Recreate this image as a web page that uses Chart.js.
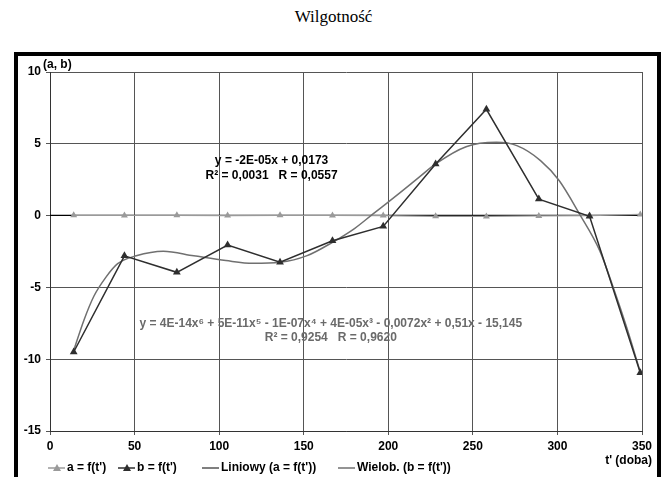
<!DOCTYPE html>
<html><head><meta charset="utf-8">
<script src="https://cdn.jsdelivr.net/npm/chart.js@4/dist/chart.umd.min.js"></script>
<style>
html,body{margin:0;padding:0;background:#fff;}
#wrap{position:relative;width:667px;height:477px;overflow:hidden;}
#title{position:absolute;left:0;top:7px;width:667px;text-align:center;font-family:"Liberation Serif","Times New Roman",serif;font-size:17px;color:#000;line-height:20px;}
#frame{position:absolute;left:14px;top:52px;width:639px;height:500px;border:4px solid #000;box-sizing:content-box;}
#c{position:absolute;left:0;top:0;}
</style></head>
<body>
<div id="wrap">
<div id="title">Wilgotność</div>
<div id="frame"></div>
<canvas id="c" width="667" height="477"></canvas>
</div>
<script>
// ---- data ----
const tDays   = [14, 44, 75, 105, 136, 167, 197, 228, 258, 289, 319, 349];
const aValues = [0.02, 0.01, 0.02, 0.0, 0.02, 0.01, 0.0, -0.05, -0.06, -0.02, 0.0, 0.08];
const bValues = [-9.5, -2.8, -3.95, -2.05, -3.25, -1.75, -0.75, 3.6, 7.4, 1.15, -0.05, -10.95];
const linTrendX = [0, 350];
const linTrendY = [0.017, 0.010];
const polyTrendX = [14, 20, 26, 33, 40, 51, 67, 85, 104, 120, 136, 152, 167, 180, 191, 199, 207, 219, 228, 246, 264, 276, 290, 301, 313, 325, 333, 341, 349];
const polyTrendY = [-9.4, -7.3, -5.6, -4.3, -3.35, -2.8, -2.48, -2.8, -3.13, -3.32, -3.25, -2.79, -1.86, -0.9, 0.12, 0.85, 1.6, 2.75, 3.6, 4.8, 5.1, 4.87, 3.83, 2.44, 0.12, -2.44, -5.0, -7.8, -10.9];
const xTicks = [0, 50, 100, 150, 200, 250, 300, 350];
const yTicks = [-15, -10, -5, 0, 5, 10];
const legendLabels = ["a = f(t')", "b = f(t')", "Liniowy (a = f(t'))", "Wielob. (b = f(t'))"];
const linEqLines = ["y = -2E-05x + 0,0173", "R\u00B2 = 0,0031   R = 0,0557"];
const polyEqLines = ["y = 4E-14x\u2076 + 5E-11x\u2075 - 1E-07x\u2074 + 4E-05x\u00B3 - 0,0072x\u00B2 + 0,51x - 15,145", "R\u00B2 = 0,9254   R = 0,9620"];
const yAxisTitle = "(a, b)";
const xAxisTitle = "t' (doba)";

const pts = (xs, ys) => xs.map((x, i) => ({x: x, y: ys[i]}));

const colA = '#9a9a9a', colB = '#2e2e2e', colLin = '#000000', colPoly = '#707070';
const FONT = 'Arial, "Liberation Sans", sans-serif';

const extras = {
  id: 'extras',
  afterDraw(chart) {
    const ctx = chart.ctx;
    const xs = chart.scales.x, ys = chart.scales.y, ca = chart.chartArea;
    ctx.save();
    // equations
    ctx.textAlign = 'center'; ctx.textBaseline = 'middle';
    ctx.font = 'bold 12px ' + FONT;
    ctx.fillStyle = '#000';
    ctx.fillText(linEqLines[0], xs.getPixelForValue(131), ys.getPixelForValue(3.85));
    ctx.fillText(linEqLines[1], xs.getPixelForValue(131), ys.getPixelForValue(2.8));
    ctx.fillStyle = '#6a6a6a';
    ctx.fillText(polyEqLines[0], xs.getPixelForValue(166), ys.getPixelForValue(-7.5));
    ctx.fillText(polyEqLines[1], xs.getPixelForValue(166), ys.getPixelForValue(-8.5));
    // axis titles
    ctx.fillStyle = '#000';
    ctx.textAlign = 'left';
    ctx.font = 'bold 12px ' + FONT;
    ctx.fillText(yAxisTitle, ca.left - 7, ca.top - 7);
    ctx.textAlign = 'right';
    ctx.font = 'bold 12px ' + FONT;
    ctx.fillText(xAxisTitle, ca.right + 10, ca.bottom + 30);
    // legend
    const ly = 468;
    const items = [
      {x: 48, c: colA, tri: true, lw: 1.5},
      {x: 118, c: colB, tri: true, lw: 1.5},
      {x: 202, c: colLin, tri: false, lw: 1},
      {x: 338, c: colPoly, tri: false, lw: 1.5}
    ];
    ctx.font = 'bold 12px ' + FONT;
    ctx.textAlign = 'left';
    items.forEach((it, i) => {
      ctx.strokeStyle = it.c; ctx.lineWidth = it.lw;
      ctx.beginPath(); ctx.moveTo(it.x, ly); ctx.lineTo(it.x + 17, ly); ctx.stroke();
      if (it.tri) {
        const cx = it.x + 9;
        ctx.fillStyle = it.c;
        ctx.beginPath(); ctx.moveTo(cx, ly - 4); ctx.lineTo(cx + 4, ly + 3); ctx.lineTo(cx - 4, ly + 3); ctx.closePath(); ctx.fill();
      }
      ctx.fillStyle = '#000';
      ctx.fillText(legendLabels[i], it.x + 19, ly);
    });
    ctx.restore();
  }
};

new Chart(document.getElementById('c'), {
  type: 'scatter',
  data: {
    datasets: [
      {label: legendLabels[0], data: pts(tDays, aValues), showLine: true, borderColor: colA, backgroundColor: colA,
       borderWidth: 1.2, pointStyle: 'triangle', pointRadius: 4, pointBorderWidth: 0, tension: 0, order: 3},
      {label: legendLabels[2], data: pts(linTrendX, linTrendY), showLine: true, borderColor: colLin, borderWidth: 1.2,
       pointRadius: 0, tension: 0, order: 4},
      {label: legendLabels[1], data: pts(tDays, bValues), showLine: true, borderColor: colB, backgroundColor: colB,
       borderWidth: 1.5, pointStyle: 'triangle', pointRadius: 4.5, pointBorderWidth: 0, tension: 0, order: 1},
      {label: legendLabels[3], data: pts(polyTrendX, polyTrendY), showLine: true, borderColor: colPoly, borderWidth: 1.5,
       pointRadius: 0, cubicInterpolationMode: 'monotone', order: 2}
    ]
  },
  options: {
    responsive: false, animation: false, devicePixelRatio: 1,
    layout: {padding: {left: 0, right: 25, top: 72, bottom: 0}},
    plugins: {legend: {display: false}, tooltip: {enabled: false}, title: {display: false}},
    scales: {
      x: {
        type: 'linear', min: 0, max: 350,
        afterBuildTicks: s => { s.ticks = xTicks.map(v => ({value: v})); },
        afterFit: s => { s.height = 46; },
        ticks: {color: '#000', font: {family: FONT, size: 12, weight: 'bold'}, padding: 4, maxRotation: 0},
        grid: {color: '#555', lineWidth: 1, tickLength: 4, drawTicks: true},
        border: {color: '#333', width: 1}
      },
      y: {
        type: 'linear', min: -15, max: 10,
        afterBuildTicks: s => { s.ticks = yTicks.map(v => ({value: v})); },
        afterFit: s => { s.width = 50; },
        ticks: {color: '#000', font: {family: FONT, size: 12, weight: 'bold'}, padding: 5},
        grid: {color: '#555', lineWidth: 1, tickLength: 4, drawTicks: true},
        border: {color: '#333', width: 1}
      }
    }
  },
  plugins: [extras]
});
</script>
</body></html>
